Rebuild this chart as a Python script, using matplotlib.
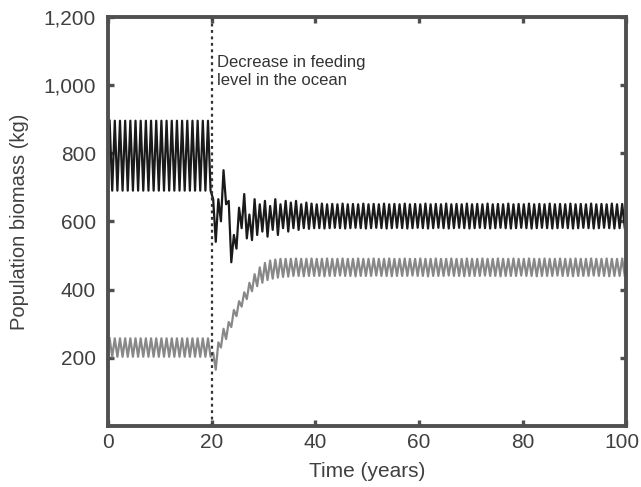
import numpy as np
import matplotlib.pyplot as plt
from matplotlib.transforms import ScaledTranslation

plt.rcParams['font.family'] = ['Liberation Sans', 'DejaVu Sans']

# yearly maxima / minima (kg), years 0..99
years = np.arange(100)

black_hi = [895, 895, 895, 895, 895, 895, 895, 895, 895, 895,
            895, 895, 895, 895, 895, 895, 895, 895, 895, 895,
            665, 665, 750, 660, 560, 640, 680, 620, 665, 650,
            660, 645, 665, 650, 660, 655, 660, 650, 655, 652,
            650, 652, 650, 651, 650, 652, 650, 651, 650, 652,
            650, 651, 650, 652, 650, 651, 650, 652, 650, 651,
            650, 652, 650, 651, 650, 652, 650, 651, 650, 652,
            650, 651, 650, 652, 650, 651, 650, 652, 650, 651,
            650, 652, 650, 651, 650, 652, 650, 651, 650, 652,
            650, 651, 650, 652, 650, 651, 650, 652, 650, 651]
black_lo = [690, 690, 690, 690, 690, 690, 690, 690, 690, 690,
            690, 690, 690, 690, 690, 690, 690, 690, 690, 690,
            540, 600, 650, 480, 520, 580, 550, 545, 560, 570,
            555, 575, 560, 580, 570, 580, 575, 580, 578, 580,
            580, 579, 580, 581, 580, 579, 580, 581, 580, 579,
            580, 581, 580, 579, 580, 581, 580, 579, 580, 581,
            580, 579, 580, 581, 580, 579, 580, 581, 580, 579,
            580, 581, 580, 579, 580, 581, 580, 579, 580, 581,
            580, 579, 580, 581, 580, 579, 580, 581, 580, 579,
            580, 581, 580, 579, 580, 581, 580, 579, 580, 581]

gray_hi = [257, 257, 257, 257, 257, 257, 257, 257, 257, 257,
           257, 257, 257, 257, 257, 257, 257, 257, 257, 257,
           215, 245, 285, 305, 340, 366, 392, 420, 445, 465,
           478, 485, 488, 490, 490, 490, 491, 490, 490, 491,
           490, 490, 491, 490, 490, 491, 490, 490, 491, 490,
           490, 491, 490, 490, 491, 490, 490, 491, 490, 490,
           491, 490, 490, 491, 490, 490, 491, 490, 490, 491,
           490, 490, 491, 490, 490, 491, 490, 490, 491, 490,
           490, 491, 490, 490, 491, 490, 490, 491, 490, 490,
           491, 490, 490, 491, 490, 490, 491, 490, 490, 491]
gray_lo = [203, 203, 203, 203, 203, 203, 203, 203, 203, 203,
           203, 203, 203, 203, 203, 203, 203, 203, 203, 203,
           165, 230, 255, 290, 322, 350, 372, 395, 410, 420,
           428, 432, 435, 437, 438, 440, 440, 439, 440, 440,
           440, 439, 440, 440, 441, 440, 440, 439, 440, 440,
           440, 441, 440, 440, 439, 440, 440, 440, 441, 440,
           440, 439, 440, 440, 440, 441, 440, 440, 439, 440,
           440, 440, 441, 440, 440, 439, 440, 440, 440, 441,
           440, 440, 439, 440, 440, 440, 441, 440, 440, 439,
           440, 440, 440, 441, 440, 440, 439, 440, 440, 440]

event_year = 20
x_ticks = [0, 20, 40, 60, 80, 100]
y_ticks = [200, 400, 600, 800, 1000, 1200]


def zigzag(hi, lo):
    # peak in the first half of each year, trough in the second half
    t = np.empty(2 * len(years))
    v = np.empty(2 * len(years))
    t[0::2] = years + 0.25
    t[1::2] = years + 0.75
    v[0::2] = hi
    v[1::2] = lo
    return t, v


fig = plt.figure(figsize=(6.41, 4.87), dpi=100)
ax = fig.add_axes([0.169, 0.1253, 0.8077, 0.8404])

tg, vg = zigzag(gray_hi, gray_lo)
tb, vb = zigzag(black_hi, black_lo)
ax.plot(tg, vg, color='#888888', lw=1.6)
ax.plot(tb, vb, color='#1a1a1a', lw=1.6)

ax.axvline(event_year, color='#333333', ls=(0, (1.3, 1.6)), lw=1.6)
ax.text(event_year + 0.9, 1088, 'Decrease in feeding\nlevel in the ocean',
        fontsize=12, color='#333333', va='top', ha='left', linespacing=1.25)

ax.set_xlim(0, 100)
ax.set_ylim(0, 1200)
ax.set_xticks(x_ticks)
ax.set_yticks(y_ticks)
ax.set_yticklabels(['{:,}'.format(v) for v in y_ticks])
ax.tick_params(direction='in', length=4, width=2.4, color='#505050',
               labelsize=15, labelcolor='#404040', top=True, right=True)
ax.tick_params(axis='y', pad=9)
ax.tick_params(axis='x', pad=5)
for s in ax.spines.values():
    s.set_linewidth(2.8)
    s.set_color('#505050')

# last x label sits right at the figure edge, nudge it in a little
last = ax.get_xticklabels()[-1]
last.set_transform(last.get_transform() + ScaledTranslation(-3 / 72, 0, fig.dpi_scale_trans))

ax.set_xlabel('Time (years)', fontsize=15, color='#404040', labelpad=7)
ax.set_ylabel('Population biomass (kg)', fontsize=14.5, color='#404040', labelpad=10)

fig.savefig('out.png', dpi=100)
